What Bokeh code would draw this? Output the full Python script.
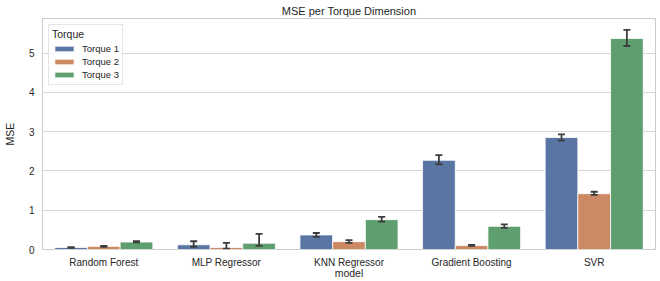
from bokeh.plotting import figure
from bokeh.models import ColumnDataSource, FactorRange, Range1d, FixedTicker, Whisker, TeeHead, Legend, LegendItem
from bokeh.transform import dodge
from bokeh.embed import file_html
from bokeh.resources import INLINE

models = ["Random Forest", "MLP Regressor", "KNN Regressor", "Gradient Boosting", "SVR"]
series = ["Torque 1", "Torque 2", "Torque 3"]

t1 = [0.05, 0.12, 0.37, 2.27, 2.85]
t1_lo = [0.04, 0.07, 0.32, 2.17, 2.77]
t1_hi = [0.06, 0.21, 0.42, 2.40, 2.93]

t2 = [0.08, 0.05, 0.20, 0.10, 1.42]
t2_lo = [0.07, 0.02, 0.17, 0.09, 1.39]
t2_hi = [0.09, 0.17, 0.24, 0.12, 1.47]

t3 = [0.19, 0.16, 0.76, 0.59, 5.37]
t3_lo = [0.18, 0.09, 0.71, 0.55, 5.18]
t3_hi = [0.21, 0.40, 0.83, 0.64, 5.59]

colors = ["#5975a4", "#cc8963", "#5f9e6e"]
yticks = [0, 1, 2, 3, 4, 5]

FONT = "Liberation Sans"
TXT = "#262626"

p = figure(width=660, height=281, x_range=FactorRange(*models, range_padding=0),
           y_range=Range1d(0, 5.88), output_backend="svg", toolbar_location=None,
           title="MSE per Torque Dimension",
           min_border_left=30, min_border_right=5, min_border_top=4, min_border_bottom=0)

p.title.align = "center"
p.title.text_font = FONT
p.title.text_font_size = "11px"
p.title.text_font_style = "normal"
p.title.text_color = TXT
p.title.offset = 0
p.title.standoff = 4

p.background_fill_color = "white"
p.border_fill_color = "white"
p.outline_line_color = "#cccccc"
p.outline_line_width = 1

p.xgrid.grid_line_color = None
p.ygrid.grid_line_color = "#d6d6d6"
p.ygrid.grid_line_width = 1
p.yaxis.ticker = FixedTicker(ticks=yticks)

for ax in (p.xaxis, p.yaxis):
    ax.axis_line_color = None
    ax.major_tick_line_color = None
    ax.minor_tick_line_color = None
    ax.major_tick_out = 0
    ax.major_tick_in = 0
    ax.minor_tick_out = 0
    ax.minor_tick_in = 0
    ax.major_label_text_font = FONT
    ax.major_label_text_font_size = "10px"
    ax.major_label_text_color = TXT
    ax.axis_label_text_font = FONT
    ax.axis_label_text_font_size = "10.5px"
    ax.axis_label_text_font_style = "normal"
    ax.axis_label_text_color = TXT

p.xaxis.axis_label = "model"
p.xaxis.major_label_standoff = 7
p.xaxis.axis_label_standoff = -4
p.yaxis.axis_label = "MSE"
p.yaxis.major_label_standoff = 8
p.yaxis.axis_label_standoff = 10

src = ColumnDataSource(dict(model=models, t1=t1, t1_lo=t1_lo, t1_hi=t1_hi,
                            t2=t2, t2_lo=t2_lo, t2_hi=t2_hi,
                            t3=t3, t3_lo=t3_lo, t3_hi=t3_hi))

bw = 0.8 / 3
offsets = [-bw, 0.0, bw]
keys = ["t1", "t2", "t3"]
items = []
for k, off, c, name in zip(keys, offsets, colors, series):
    r = p.vbar(x=dodge("model", off, range=p.x_range), top=k, width=bw, bottom=0,
               source=src, fill_color=c, line_color="white", line_width=0.8)
    items.append(LegendItem(label=name, renderers=[r]))

for k, off in zip(keys, offsets):
    w = Whisker(base=dodge("model", off, range=p.x_range), upper=k + "_hi", lower=k + "_lo",
                source=src, line_color="#3d3d3d", line_width=1.8, level="overlay",
                upper_head=TeeHead(size=7, line_color="#3d3d3d", line_width=1.8),
                lower_head=TeeHead(size=7, line_color="#3d3d3d", line_width=1.8))
    p.add_layout(w)

legend = Legend(items=items, location="top_left", title="Torque")
legend.title_text_font = FONT
legend.title_text_font_size = "10.5px"
legend.title_text_font_style = "normal"
legend.title_text_color = TXT
legend.title_standoff = 2
legend.label_text_font = FONT
legend.label_text_font_size = "9.5px"
legend.label_text_color = TXT
legend.label_height = 13
legend.label_standoff = 6
legend.glyph_width = 24
legend.glyph_height = 7
legend.spacing = 0
legend.padding = 3
legend.margin = 6
legend.border_line_color = "#cccccc"
legend.border_line_width = 1
legend.background_fill_alpha = 0.85
p.add_layout(legend)

open("out.html", "w").write(file_html(p, INLINE))
